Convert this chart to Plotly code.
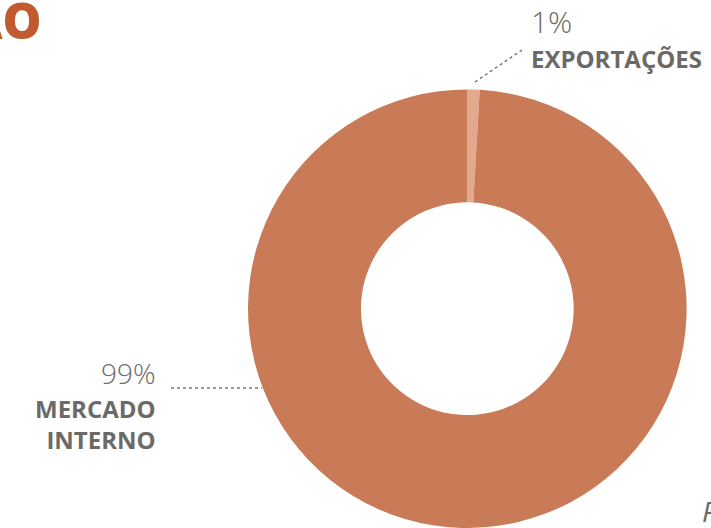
import plotly.graph_objects as go

# data
categories = ["EXPORTAÇÕES", "MERCADO INTERNO"]
values = [0.9, 99.1]
pct_labels = ["1%", "99%"]
colors = ["#E2A98C", "#C97B57"]

W, H = 711, 528
def px(x): return x / W
def py(y): return 1 - y / H

fig = go.Figure(go.Pie(
    labels=categories, values=values, hole=0.485, sort=False,
    direction="clockwise", rotation=0, textinfo="none", hoverinfo="label+percent",
    marker=dict(colors=colors, line=dict(width=0)),
    domain=dict(x=[px(248), px(686.6)], y=[0, 438.6 / H]),
    showlegend=False,
))

gray = "#6B6A66"
font = "Open Sans"
ann = []
# title (cropped by the page edge, as in the reference)
ann.append(dict(x=px(44), y=py(-15), xref="paper", yref="paper", xanchor="right", yanchor="top",
                text="PRODUÇÃO", showarrow=False,
                font=dict(family=font, size=49, color="#C25A30", weight=800)))
# exports
ann.append(dict(x=px(529), y=py(-1), xref="paper", yref="paper", xanchor="left", yanchor="top",
                text=pct_labels[0], showarrow=False,
                font=dict(family=font, size=30, color=gray, weight=300)))
ann.append(dict(x=px(529), y=py(40), xref="paper", yref="paper", xanchor="left", yanchor="top",
                text=categories[0], showarrow=False,
                font=dict(family=font, size=24, color=gray, weight=700)))
# internal market
ann.append(dict(x=px(158), y=py(352), xref="paper", yref="paper", xanchor="right", yanchor="top",
                text=pct_labels[1], showarrow=False,
                font=dict(family=font, size=28, color=gray, weight=300)))
ann.append(dict(x=px(158), y=py(390), xref="paper", yref="paper", xanchor="right", yanchor="top",
                text="MERCADO<br>INTERNO", showarrow=False, align="right",
                font=dict(family=font, size=24, color=gray, weight=700)))
# source (cropped by the page edge, as in the reference)
ann.append(dict(x=px(700), y=py(532), xref="paper", yref="paper", xanchor="left", yanchor="bottom",
                text="Fonte:", showarrow=False,
                font=dict(family=font, size=28, color=gray, style="italic")))

shapes = [
    dict(type="line", xref="paper", yref="paper", x0=px(475), y0=py(82), x1=px(522), y1=py(50),
         line=dict(color="#777", width=1.5, dash="dot")),
    dict(type="line", xref="paper", yref="paper", x0=px(171), y0=py(388), x1=px(262), y1=py(388),
         line=dict(color="#777", width=1.5, dash="dot")),
]

fig.update_layout(width=W, height=H, margin=dict(l=0, r=0, t=0, b=0),
                  paper_bgcolor="white", plot_bgcolor="white",
                  annotations=ann, shapes=shapes)
fig.write_html("out.html", config={"displayModeBar": False},
               post_script="document.body.style.margin='0';")
